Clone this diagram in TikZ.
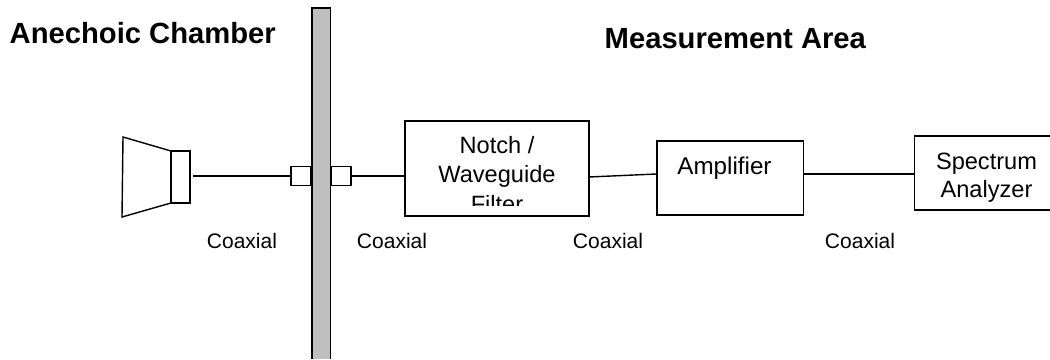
\documentclass[tikz,border=0pt]{standalone}
\usepackage{fontspec}
\setmainfont{Liberation Sans}
\tikzset{
  x=1pt,y=-1pt,
  ln/.style={draw=black,line width=1.4pt},
  box/.style={ln,fill=white,rectangle,inner sep=0pt,minimum width=#1},
  lab/.style={font=\fontsize{21}{25}\selectfont,inner sep=0pt,anchor=base},
  bodytxt/.style={font=\fontsize{23.6}{28}\selectfont,inner sep=0pt,anchor=base},
  ttl/.style={font=\fontsize{29.2}{34}\selectfont\bfseries,inner sep=0pt,anchor=base west}
}
\begin{document}
\begin{tikzpicture}
\useasboundingbox (0,0) rectangle (1050,359);
\fill[white] (0,0) rectangle (1050,359);
% wall
\fill[black!25] (312,8) rectangle (330.5,359);
\draw[ln,line width=1.6pt] (312,359) -- (312,8) -- (330.5,8) -- (330.5,359);
% horn
\draw[ln,line join=miter] (123,137) -- (171,151) -- (171,203) -- (122,217) -- cycle;
\node[box=19pt,minimum height=52pt] (mouth) at (180.5,177) {};
% ports
\node[box=20pt,minimum height=19pt] (p1) at (301,176) {};
\node[box=20pt,minimum height=19pt] (p2) at (341,176) {};
% boxes
\node[box=184pt,minimum height=95pt] (filt) at (497,168.5) {};
\node[box=146.5pt,minimum height=74pt] (amp) at (730.25,178) {};
\node[box=137pt,minimum height=74pt,anchor=west] (spec) at (913.5,173) {};
% connectors
\coordinate (m) at (193,176);
\draw[ln] (m) -- (p1.west);
\draw[ln] (p2.east) -- (filt.west |- p2.east);
\draw[ln] (589,177) -- (amp.west |- 0,174);
\draw[ln] (amp.east |- 0,174) -- (spec.west |- 0,174);
% box text
\node[bodytxt] (t1) at (497,153) {Notch /};
\node[bodytxt] (t2) at (497,182) {Waveguide};
\begin{scope}
\clip (406,190) rectangle (587,205.5);
\node[bodytxt] (t3) at (497,212) {Filter};
\end{scope}
\node[bodytxt,font=\fontsize{24.2}{28}\selectfont] (t4) at (724.5,174) {Amplifier};
\node[bodytxt] (t5) at (986.5,169) {Spectrum};
\node[bodytxt] (t6) at (986.5,197) {Analyzer};
% labels
\node[lab] (c1) at (242,248) {Coaxial};
\node[lab] (c2) at (392,248) {Coaxial};
\node[lab] (c3) at (608,248) {Coaxial};
\node[lab] (c4) at (860,248) {Coaxial};
\node[ttl] (a1) at (9.5,43) {Anechoic Chamber};
\node[ttl] (a2) at (604.5,48) {Measurement Area};
\end{tikzpicture}
\end{document}
